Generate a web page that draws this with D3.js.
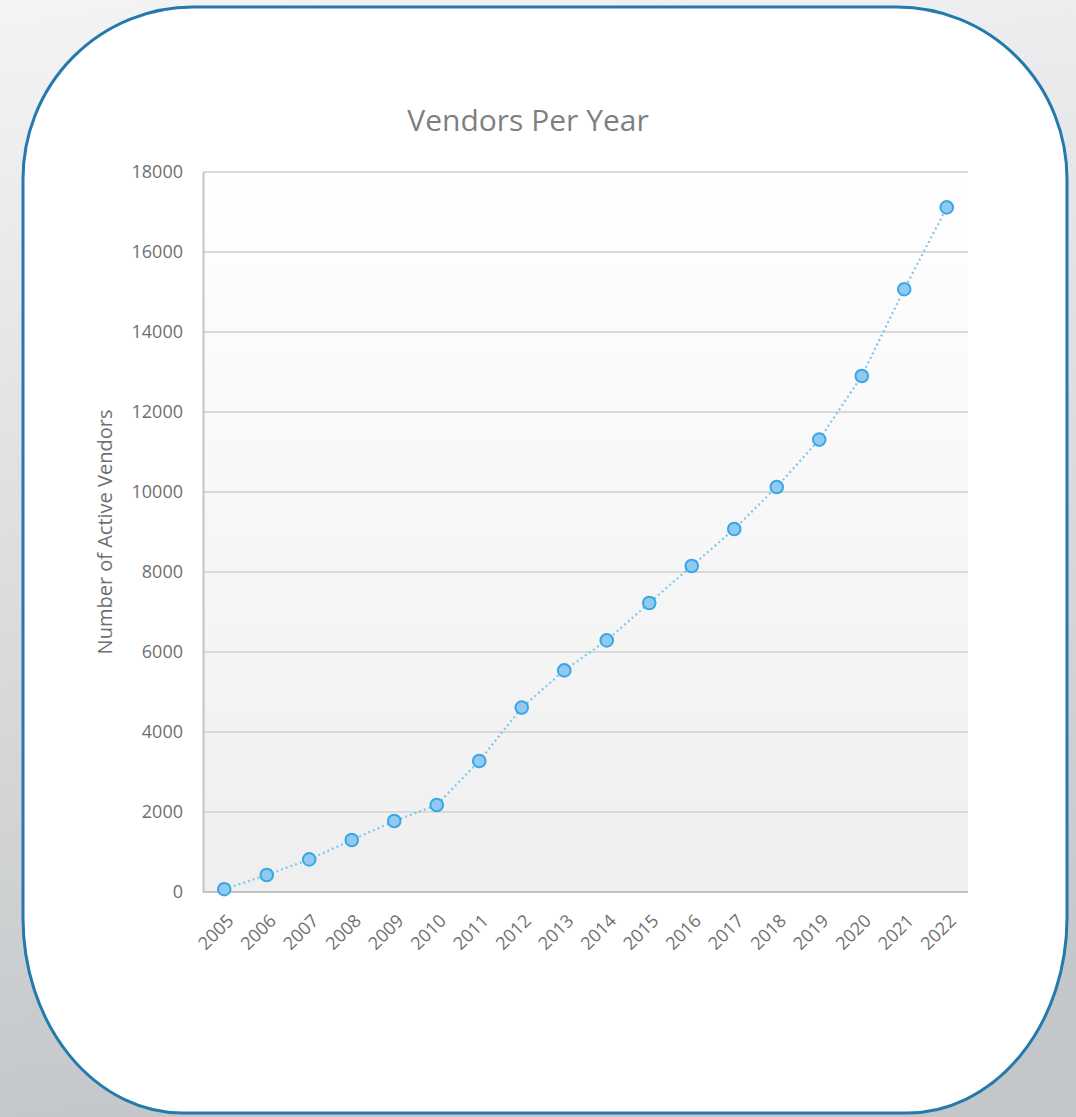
<!DOCTYPE html>
<html>
<head>
<meta charset="utf-8">
<script src="https://cdn.jsdelivr.net/npm/d3@7"></script>
<style>
html,body{margin:0;padding:0;background:#fff;}
svg{display:block;}
text{font-family:"Open Sans","Lato",sans-serif;}
</style>
</head>
<body>
<svg id="chart" width="1076" height="1117"></svg>
<script>
const years = ["2005","2006","2007","2008","2009","2010","2011","2012","2013","2014","2015","2016","2017","2018","2019","2020","2021","2022"];
const vendors = [70,425,815,1300,1775,2175,3275,4610,5540,6290,7225,8150,9075,10125,11310,12900,15070,17115];
const yTicks = [0,2000,4000,6000,8000,10000,12000,14000,16000,18000];
const title = "Vendors Per Year";
const yLabel = "Number of Active Vendors";

const W = 1076, H = 1117;
const svg = d3.select("#chart");
const defs = svg.append("defs");

const bg = defs.append("linearGradient").attr("id","bg").attr("x1",0).attr("y1",0).attr("x2",0.15).attr("y2",1);
bg.append("stop").attr("offset","0%").attr("stop-color","#f4f4f5");
bg.append("stop").attr("offset","100%").attr("stop-color","#c4c7c9");

const pg = defs.append("linearGradient").attr("id","plotbg").attr("x1",0).attr("y1",0).attr("x2",0).attr("y2",1);
pg.append("stop").attr("offset","0%").attr("stop-color","#ffffff");
pg.append("stop").attr("offset","100%").attr("stop-color","#efefef");

svg.append("rect").attr("width",W).attr("height",H).attr("fill","url(#bg)");

// rounded card
const L=23, T=7, R=1067, B=1113;
const rxT=170, ryT=172, rxB=160, ryB=195;
const card = `M${L+rxT},${T} L${R-rxT},${T} A${rxT},${ryT} 0 0 1 ${R},${T+ryT} L${R},${B-ryB} A${rxB},${ryB} 0 0 1 ${R-rxB},${B} L${L+rxB},${B} A${rxB},${ryB} 0 0 1 ${L},${B-ryB} L${L},${T+ryT} A${rxT},${ryT} 0 0 1 ${L+rxT},${T} Z`;
svg.append("path").attr("d",card).attr("fill","#ffffff").attr("stroke","#2479ad").attr("stroke-width",3);

const m = {left:203, top:172, right:968, bottom:892};
const x = d3.scalePoint().domain(years).range([m.left, m.right]).padding(0.5);
const y = d3.scaleLinear().domain([0,18000]).range([m.bottom, m.top]);

svg.append("rect").attr("x",m.left).attr("y",m.top).attr("width",m.right-m.left).attr("height",m.bottom-m.top).attr("fill","url(#plotbg)");

// gridlines
svg.append("g").selectAll("line").data(yTicks.filter(d=>d>0)).join("line")
  .attr("x1",m.left).attr("x2",m.right).attr("y1",d=>y(d)).attr("y2",d=>y(d))
  .attr("stroke","#d9d9d9").attr("stroke-width",2);

// y axis
const yAxis = svg.append("g").attr("transform",`translate(${m.left},0)`)
  .call(d3.axisLeft(y).tickValues(yTicks).tickSize(0).tickPadding(20).tickFormat(d3.format("d")));
yAxis.select(".domain").attr("stroke","#c4c4c4").attr("stroke-width",2);
yAxis.selectAll("text").attr("fill","#6f6f6f").attr("font-size",18);

// x axis
const xAxis = svg.append("g").attr("transform",`translate(0,${m.bottom})`)
  .call(d3.axisBottom(x).tickSize(0).tickPadding(0));
xAxis.select(".domain").attr("d",`M${m.left},0H${m.right}`).attr("stroke","#c4c4c4").attr("stroke-width",2);
xAxis.selectAll("text").attr("fill","#6f6f6f").attr("font-size",18)
  .attr("text-anchor","end").attr("dy",null).attr("y",null)
  .attr("transform","translate(10,30) rotate(-45)");

// line
const line = d3.line().x((d,i)=>x(years[i])).y(d=>y(d));
svg.append("path").datum(vendors).attr("d",line).attr("fill","none")
  .attr("stroke","#7ec8f0").attr("stroke-width",2.2).attr("stroke-dasharray","2,3");

svg.append("g").selectAll("circle").data(vendors).join("circle")
  .attr("cx",(d,i)=>x(years[i])).attr("cy",d=>y(d)).attr("r",6.3)
  .attr("fill","#8fcaf2").attr("stroke","#3aa6e4").attr("stroke-width",2);

// title
svg.append("text").attr("x",528).attr("y",131).attr("text-anchor","middle")
  .attr("fill","#7f7f7f").attr("font-size",30).text(title);

// y label
svg.append("text").attr("transform","translate(112,532) rotate(-90)").attr("text-anchor","middle")
  .attr("fill","#6f6f6f").attr("font-size",20).text(yLabel);
</script>
</body>
</html>
